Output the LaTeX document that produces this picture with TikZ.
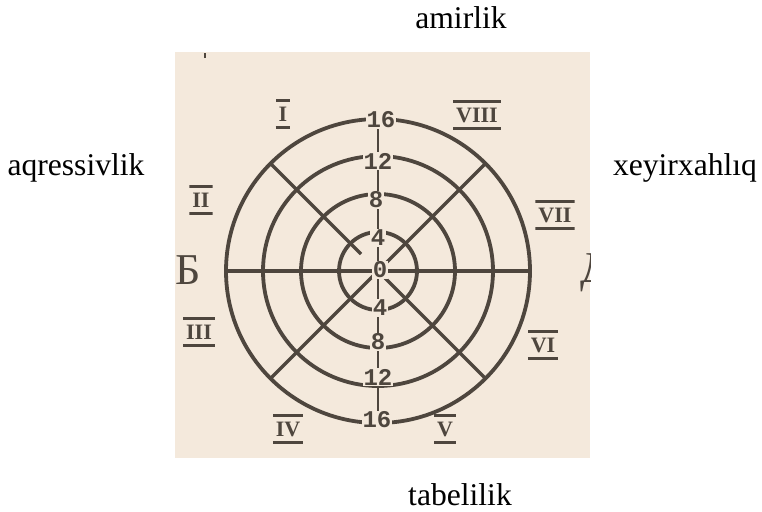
\documentclass[tikz,border=0pt]{standalone}
\usepackage{fontspec}
\setmainfont{Liberation Serif}
\setmonofont{Liberation Mono}
\usepackage{xcolor}
\definecolor{paper}{RGB}{244,233,220}
\definecolor{ink}{RGB}{78,70,62}

\begin{document}
\begin{tikzpicture}[x=0.5pt,y=0.5pt,
  ring/.style={ink,line width=1.9pt},
  spoke/.style={ink,line width=1.6pt},
  num/.style={font=\ttfamily\bfseries\fontsize{12}{12}\selectfont,text=ink,fill=paper,inner sep=0.5pt},
  roman/.style={font=\bfseries\fontsize{11}{11}\selectfont,text=ink,
    inner xsep=1.5pt,inner ysep=3.5pt,text height=7.3pt,text depth=0pt,
    path picture={\draw[ink,line width=2.2pt]
      (path picture bounding box.north west)--(path picture bounding box.north east)
      (path picture bounding box.south west)--(path picture bounding box.south east);}},
  side/.style={font=\fontsize{15.8}{18}\selectfont,anchor=base}]
  \useasboundingbox (0,0) rectangle (762,511);
  % Scanned sheet
  \fill[paper] (175,53) rectangle (590,459);
  \draw[ink,line width=1pt] (205,453)--(205,458);
  \coordinate (c) at (378,240);
  % Rings 4, 8, 12, 16
  \draw[ring] (c) circle[radius=39];
  \draw[ring] (c) circle[radius=77];
  \draw[ring] (c) circle[radius=115];
  \draw[ring] (c) circle[radius=152];
  % Axes and diagonals
  \draw[spoke] (226,240)--(530,240);
  \draw[ink,line width=1.1pt] (378,392)--(378,88);
  \begin{scope}[shift={(c)}]
    \draw[spoke] (135:24)--(135:152);
    \draw[spoke] (45:12)--(45:152);
    \draw[spoke] (225:6)--(225:152);
    \draw[spoke] (315:10)--(315:152);
  \end{scope}
  % Scale on the vertical axis
  \node[num] (u16) at (381,391) {16};
  \node[num] (u12) at (378,350) {12};
  \node[num] (u8)  at (376,311) {8};
  \node[num] (u4)  at (378,273) {4};
  \node[num] (z0)  at (380,241) {0};
  \node[num] (d4)  at (380,203) {4};
  \node[num] (d8)  at (378,169) {8};
  \node[num] (d12) at (378,134) {12};
  \node[num] (d16) at (377,91)  {16};
  % Octants
  \node[roman] (o1) at (283,397) {I};
  \node[roman] (o8) at (477,396) {VIII};
  \node[roman] (o2) at (201,311) {II};
  \node[roman] (o7) at (555,296) {VII};
  \node[roman] (o3) at (199,179) {III};
  \node[roman] (o6) at (543,166) {VI};
  \node[roman] (o4) at (288,82)  {IV};
  \node[roman] (o5) at (445,82)  {V};
  % Letters cut by the edge of the sheet
  \begin{scope}
    \clip (175,53) rectangle (590,459);
    \node[font=\fontsize{22}{24}\selectfont,text=ink] (lb) at (188,241) {Б};
    \node[font=\fontsize{22}{24}\selectfont,text=ink] (ld) at (596,238) {Д};
  \end{scope}
  % Names of the poles
  \node[side] (top)   at (461,483) {amirlik};
  \node[side] (left)  at (76,336)  {aqressivlik};
  \node[side] (right) at (685,336) {xeyirxahlıq};
  \node[side] (bot)   at (460,6)   {tabelilik};
\end{tikzpicture}
\end{document}
